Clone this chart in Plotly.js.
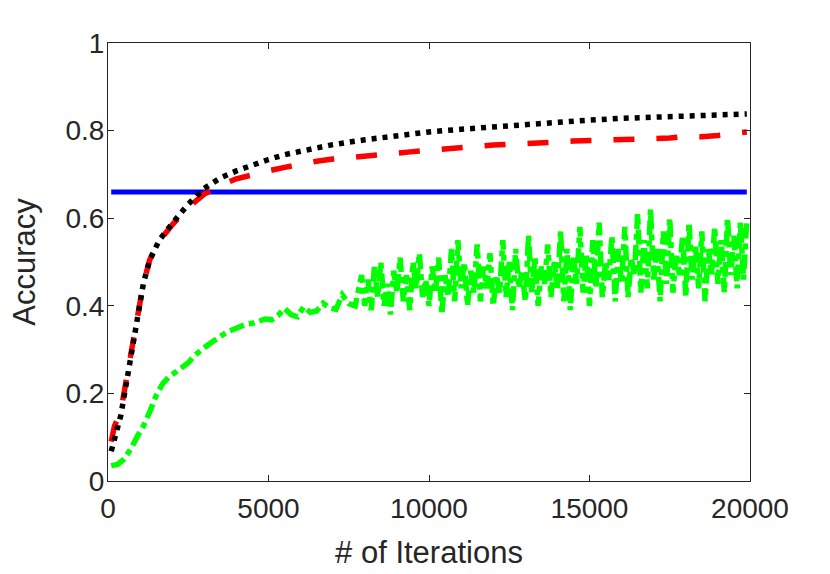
<!DOCTYPE html>
<html>
<head>
<meta charset="utf-8">
<script src="https://cdn.plot.ly/plotly-3.0.1.min.js"></script>
<style>
  html, body { margin: 0; padding: 0; background: #ffffff; }
  #chart { width: 830px; height: 574px; }
</style>
</head>
<body>
<div id="chart"></div>
<script>
// Baseline (flat) accuracy
const baseIter = [100, 19900];
const baseAcc = [0.66, 0.66];

// Black dotted curve
const blackIter = [100, 300, 400, 600, 800, 1000, 1100, 1300, 1600, 2000, 2500, 3000, 3500,
  4000, 4500, 5000, 5500, 6000, 7000, 8000, 9000, 10000, 11000, 12000, 13000, 14000, 15000,
  16000, 17000, 18000, 18500, 19000, 19500, 19900];
const blackAcc = [0.068, 0.12, 0.15, 0.235, 0.315, 0.40, 0.45, 0.505, 0.55, 0.588, 0.632, 0.668, 0.692,
  0.708, 0.722, 0.734, 0.745, 0.753, 0.768, 0.779, 0.789, 0.797, 0.803, 0.809, 0.815, 0.820, 0.824,
  0.828, 0.831, 0.834, 0.837, 0.836, 0.837, 0.838];

// Red dashed curve
const redIter = [100, 200, 400, 600, 800, 1000, 1100, 1300, 1600, 2000, 2500, 3000, 3500, 4000,
  4500, 5000, 5500, 6000, 6500, 7000, 7500, 8000, 8500, 9000, 9500, 10000, 10500, 11000, 11500,
  12000, 12500, 13000, 13500, 14000, 14500, 15000, 15500, 16000, 16500, 17000, 17500, 18000,
  18500, 19000, 19500, 19900];
const redAcc = [0.09, 0.125, 0.16, 0.24, 0.32, 0.405, 0.45, 0.505, 0.548, 0.585, 0.625, 0.655, 0.675, 0.69,
  0.70, 0.708, 0.716, 0.724, 0.73, 0.735, 0.739, 0.743, 0.747, 0.75, 0.752, 0.755, 0.759, 0.761, 0.764,
  0.767, 0.768, 0.771, 0.77, 0.774, 0.776, 0.777, 0.78, 0.779, 0.783, 0.784, 0.783, 0.787,
  0.786, 0.789, 0.792, 0.797];

// Green dash-dot curve: smooth start, then noisy every 100 iterations from 7900
const greenEarlyIter = [100, 300, 500, 700, 900, 1100, 1300, 1500, 1700, 1900, 2100, 2300, 2500,
  2700, 2900, 3100, 3300, 3500, 3700, 3900, 4100, 4300, 4500, 4700, 4900, 5100, 5300, 5500,
  5700, 5900, 6100, 6300, 6500, 6700, 6900, 7100, 7300, 7500, 7700];
const greenEarlyAcc = [0.035, 0.038, 0.05, 0.072, 0.10, 0.125, 0.158, 0.195, 0.222, 0.238, 0.248, 0.258, 0.27,
  0.287, 0.30, 0.31, 0.32, 0.33, 0.34, 0.346, 0.352, 0.358, 0.36, 0.364, 0.37, 0.368, 0.378, 0.394,
  0.38, 0.375, 0.398, 0.385, 0.388, 0.406, 0.395, 0.392, 0.425, 0.405, 0.40];
const greenNoisyStart = 7900;
const greenNoisyStep = 100;
const greenNoisyAcc = [
  0.47, 0.40, 0.46, 0.39, 0.49, 0.42, 0.50, 0.40, 0.45, 0.38,
  0.48, 0.43, 0.51, 0.41, 0.47, 0.39, 0.50, 0.44, 0.52, 0.42,
  0.46, 0.40, 0.49, 0.43, 0.51, 0.38, 0.47, 0.42, 0.53, 0.41,
  0.55, 0.44, 0.50, 0.40, 0.48, 0.43, 0.54, 0.41, 0.49, 0.44,
  0.52, 0.40, 0.47, 0.43, 0.55, 0.42, 0.50, 0.39, 0.53, 0.44,
  0.48, 0.41, 0.56, 0.43, 0.51, 0.40, 0.49, 0.45, 0.54, 0.42,
  0.50, 0.44, 0.57, 0.41, 0.53, 0.39, 0.51, 0.45, 0.58, 0.43,
  0.52, 0.40, 0.55, 0.44, 0.59, 0.42, 0.50, 0.46, 0.56, 0.41,
  0.53, 0.45, 0.58, 0.42, 0.51, 0.47, 0.61, 0.43, 0.55, 0.44,
  0.62, 0.46, 0.53, 0.41, 0.57, 0.45, 0.60, 0.43, 0.52, 0.47,
  0.56, 0.42, 0.59, 0.46, 0.54, 0.44, 0.57, 0.41, 0.53, 0.47,
  0.58, 0.45, 0.55, 0.43, 0.60, 0.47, 0.56, 0.44, 0.59, 0.46,
  0.60
];

const xTicks = [0, 5000, 10000, 15000, 20000];
const yTicks = [0, 0.2, 0.4, 0.6, 0.8, 1];
const yTickText = ['0', '0.2', '0.4', '0.6', '0.8', '1'];

const greenIter = greenEarlyIter.concat(greenNoisyAcc.map((_, i) => greenNoisyStart + i * greenNoisyStep));
const greenAcc = greenEarlyAcc.concat(greenNoisyAcc);

const traces = [
  {
    type: 'scatter', mode: 'lines', x: greenIter, y: greenAcc,
    line: { color: '#00ff00', width: 5.5, dash: '15px,5px,6px,5px' },
    hoverinfo: 'skip', showlegend: false,
  },
  {
    type: 'scatter', mode: 'lines', x: baseIter, y: baseAcc,
    line: { color: '#0000ff', width: 5 },
    hoverinfo: 'skip', showlegend: false,
  },
  {
    type: 'scatter', mode: 'lines', x: redIter, y: redAcc,
    line: { color: '#ff0000', width: 5.5, dash: '21px,22px' },
    hoverinfo: 'skip', showlegend: false,
  },
  {
    type: 'scatter', mode: 'lines', x: blackIter, y: blackAcc,
    line: { color: '#000000', width: 5.5, dash: '5px,6px' },
    hoverinfo: 'skip', showlegend: false,
  },
];

const axisCommon = {
  showgrid: false,
  zeroline: false,
  showline: true,
  mirror: 'ticks',
  linecolor: '#262626',
  linewidth: 1,
  ticks: 'inside',
  ticklen: 6,
  tickwidth: 1,
  tickcolor: '#262626',
  tickfont: { family: 'Liberation Sans, Arial, sans-serif', size: 28, color: '#262626' },
};

const layout = {
  width: 830,
  height: 574,
  paper_bgcolor: '#ffffff',
  plot_bgcolor: '#ffffff',
  margin: { l: 108, r: 80, t: 43, b: 93 },
  font: { family: 'Liberation Sans, Arial, sans-serif', color: '#262626' },
  xaxis: Object.assign({}, axisCommon, {
    range: [0, 20000],
    tickvals: xTicks,
    ticktext: xTicks.map(String),
    ticklabelstandoff: 2,
    title: { text: '# of Iterations', font: { size: 31, color: '#262626' }, standoff: 18 },
  }),
  yaxis: Object.assign({}, axisCommon, {
    range: [0, 1],
    tickvals: yTicks,
    ticktext: yTickText,
    ticklabelstandoff: -3,
    title: { text: 'Accuracy', font: { size: 31, color: '#262626' }, standoff: 20 },
  }),
};

Plotly.newPlot('chart', traces, layout, { displayModeBar: false, staticPlot: true });
</script>
</body>
</html>
